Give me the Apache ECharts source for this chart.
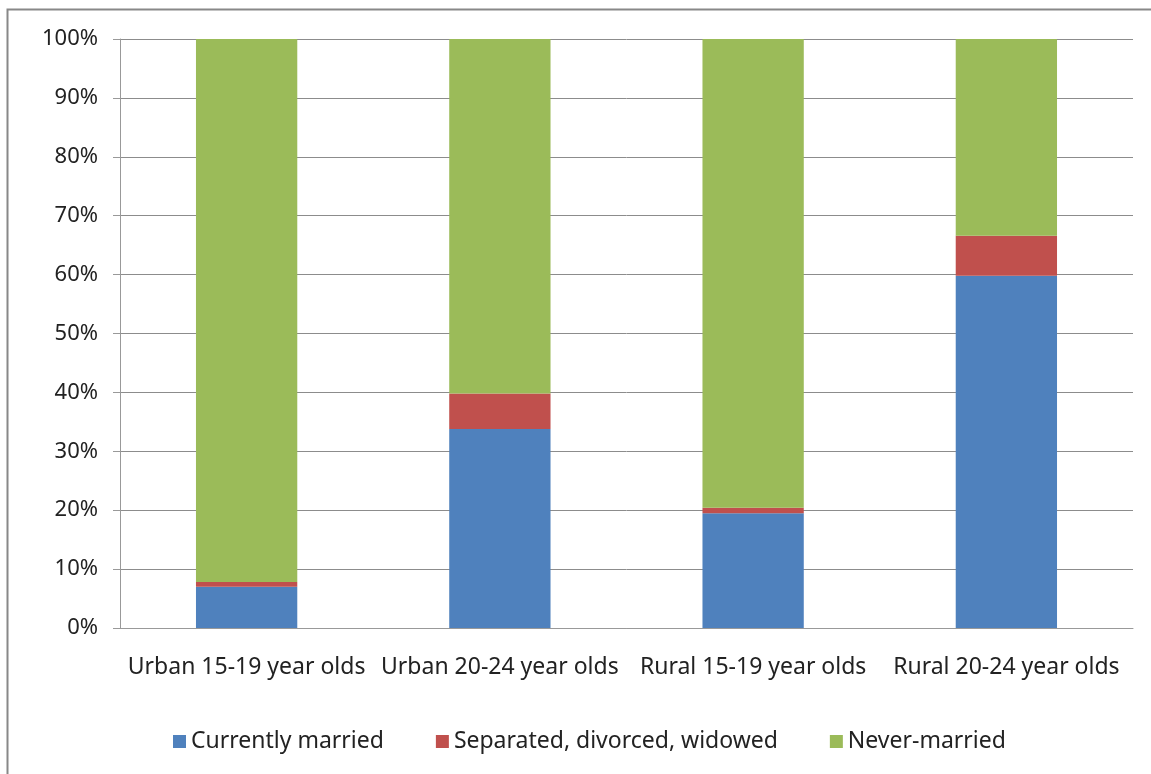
<!DOCTYPE html>
<html><head><meta charset="utf-8">
<script src="https://cdn.jsdelivr.net/npm/echarts@6/dist/echarts.min.js"></script>
<style>html,body{margin:0;padding:0;background:#fff}#c{width:1151px;height:774px}</style>
</head><body><div id="c"></div>
<script>
const categories = ["Urban 15-19 year olds","Urban 20-24 year olds","Rural 15-19 year olds","Rural 20-24 year olds"];
const currentlyMarried = [7.0, 33.8, 19.5, 59.8];
const separated = [0.8, 6.0, 0.9, 6.8];
const neverMarried = [92.2, 60.2, 79.6, 33.4];
const yTicks = [0,10,20,30,40,50,60,70,80,90,100];

const font = "Noto Sans";
const chart = echarts.init(document.getElementById('c'));
function s(name, data, color){
  return {name, type:'bar', stack:'t', data, barWidth:'40%', itemStyle:{color}, emphasis:{disabled:true}};
}
chart.setOption({
  animation:false,
  graphic:[{type:'rect', shape:{x:7.5,y:9.5,width:1160,height:780}, style:{fill:'none', stroke:'#888', lineWidth:2}}],
  grid:{left:120, right:18, top:39, bottom:146},
  legend:{top:725, left:168, itemWidth:13, itemHeight:13, itemGap:52, icon:'rect',
    textStyle:{fontFamily:font, fontSize:23, color:'#222'}},
  xAxis:{type:'category', data:categories,
    axisLine:{lineStyle:{color:'#999'}}, axisTick:{length:8, lineStyle:{color:'#999'}},
    axisLabel:{fontFamily:font, fontSize:23, color:'#222', margin:28, interval:0}},
  yAxis:{type:'value', min:0, max:100, interval:10,
    axisLine:{show:true, lineStyle:{color:'#999'}}, axisTick:{show:true, length:7, lineStyle:{color:'#999'}},
    splitLine:{lineStyle:{color:'#8c8c8c'}},
    axisLabel:{fontFamily:font, fontSize:22, color:'#222', margin:22, formatter:v=>yTicks.includes(v)?v+'%':''}},
  series:[s('Currently married', currentlyMarried, '#4F81BD'),
          s('Separated, divorced, widowed', separated, '#C0504D'),
          s('Never-married', neverMarried, '#9BBB59')]
});
</script></body></html>
